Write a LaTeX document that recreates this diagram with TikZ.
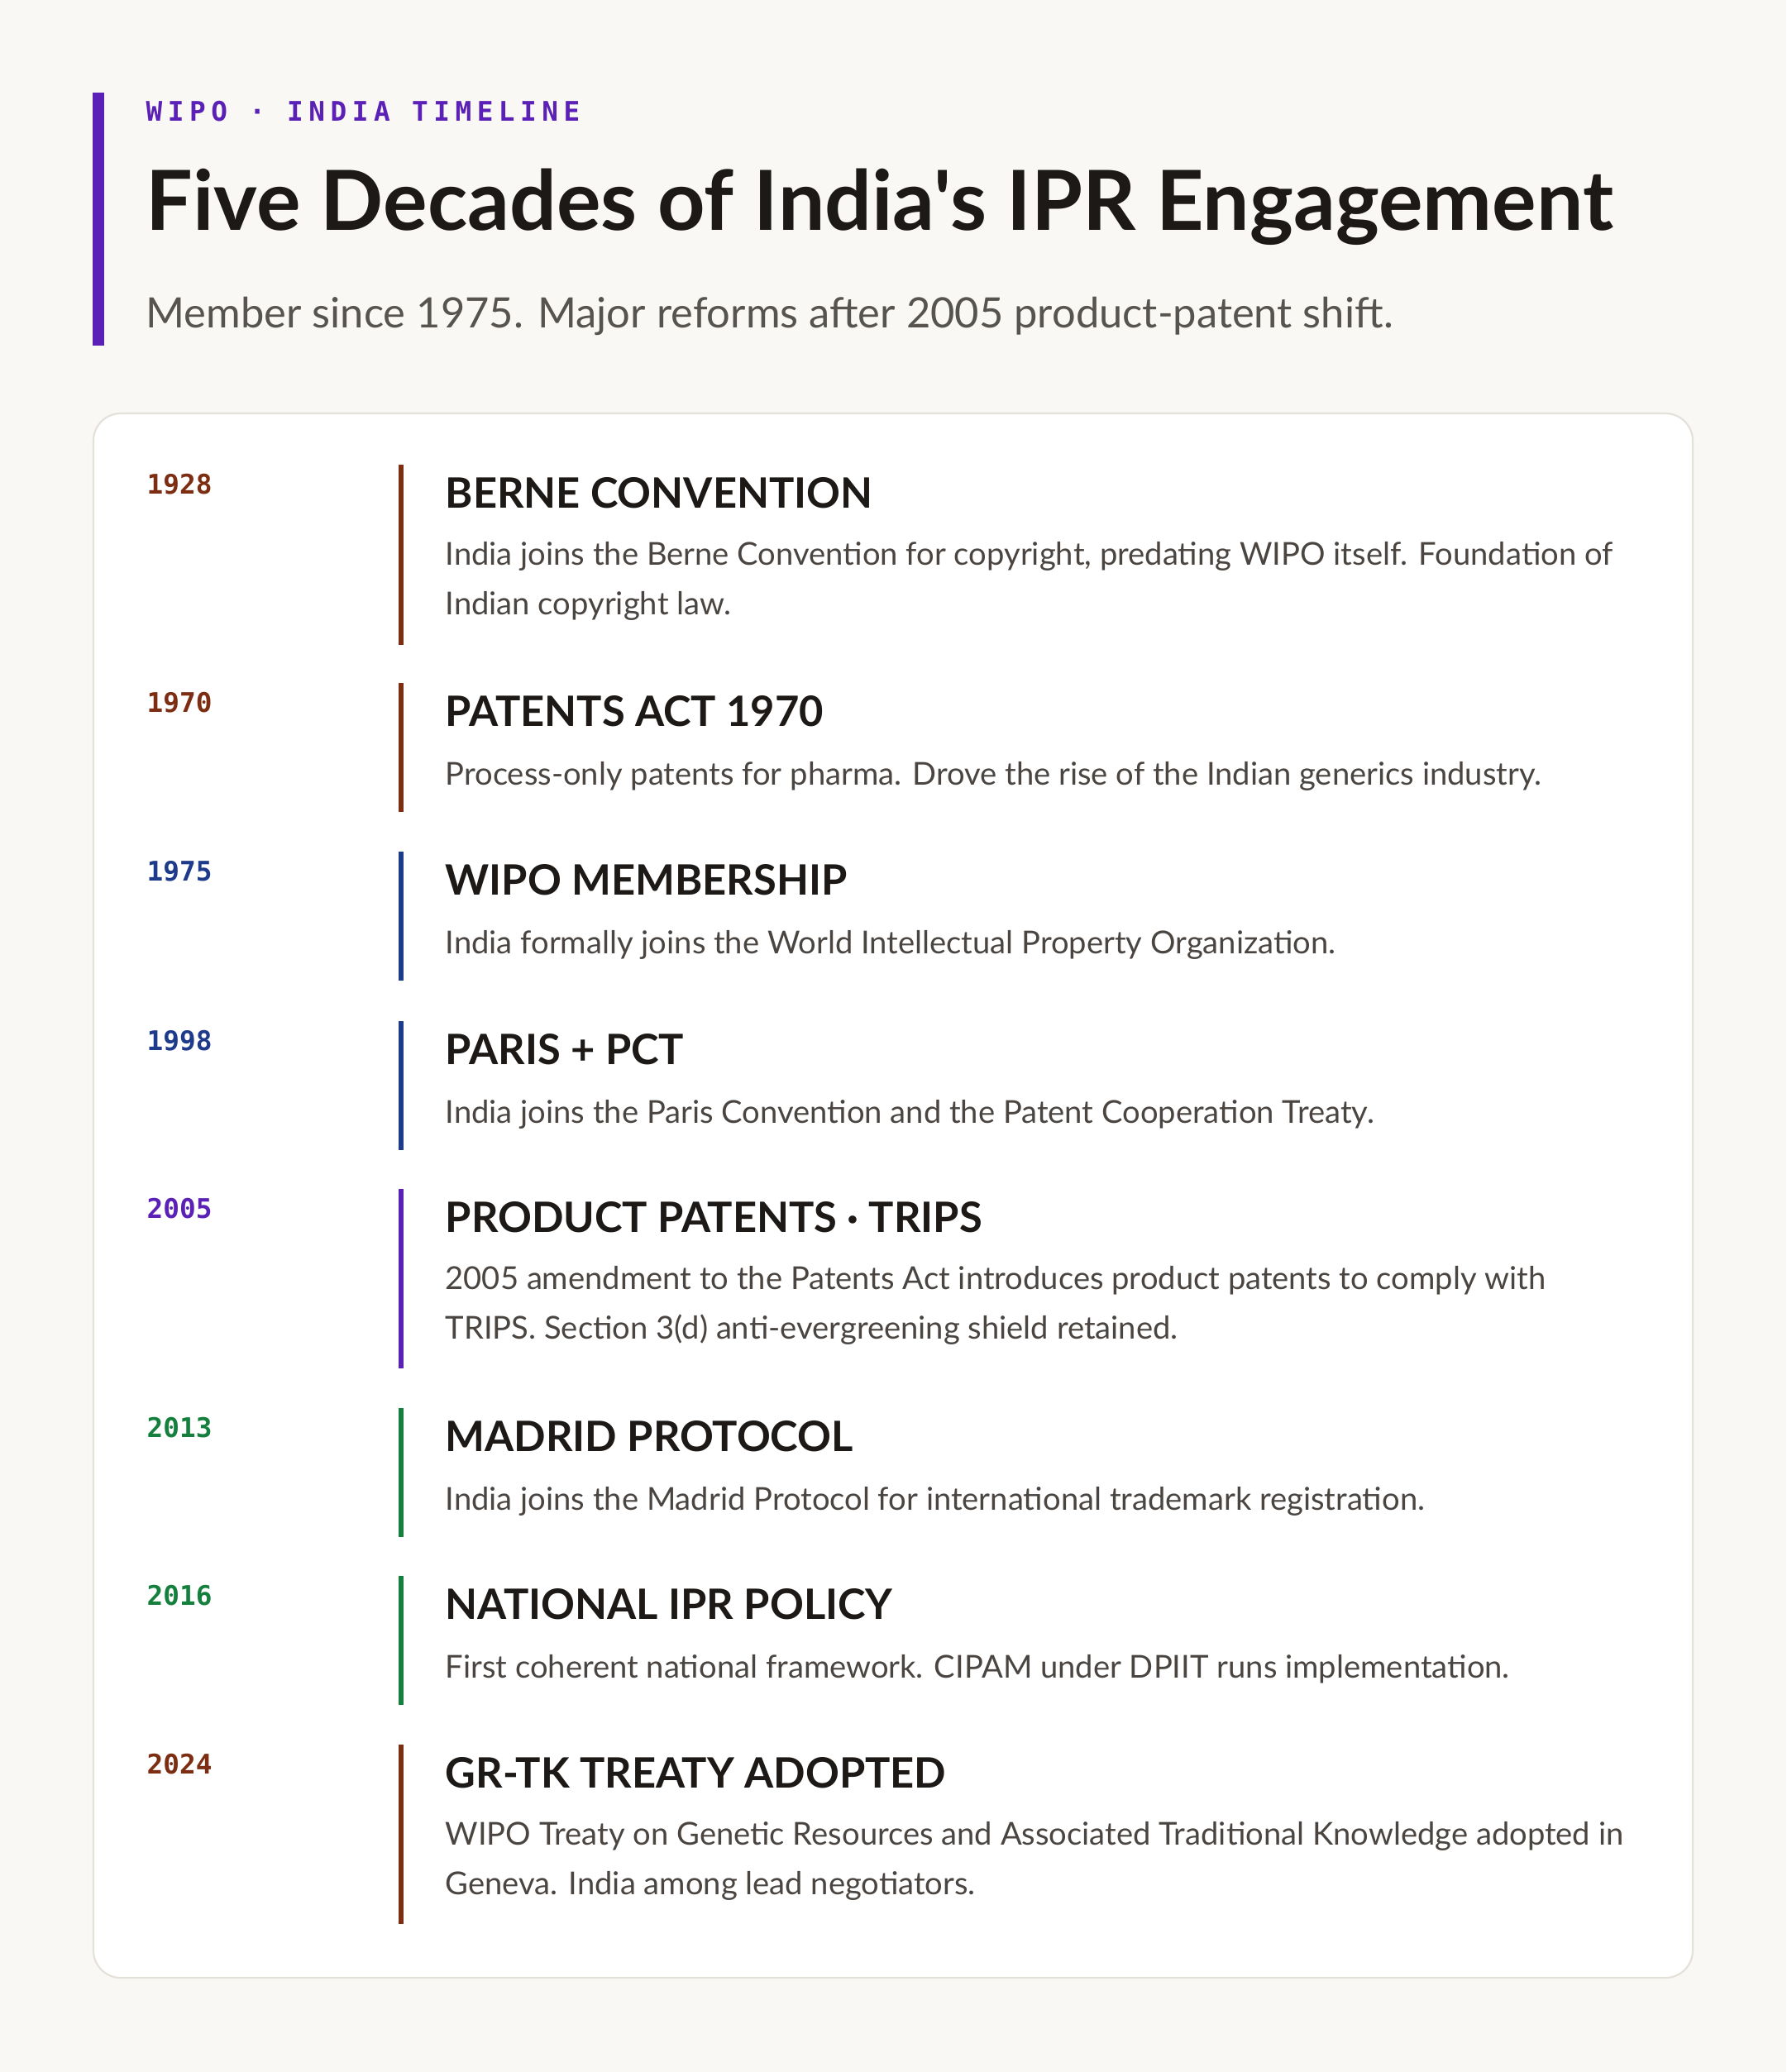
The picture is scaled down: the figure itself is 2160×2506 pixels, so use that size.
\documentclass[tikz,border=0pt]{standalone}
\usepackage{fontspec}
\setmainfont{Lato}
\setmonofont{DejaVu Sans Mono}
\newfontfamily\eyebrowfont{DejaVu Sans Mono}[LetterSpace=20]
\newfontfamily\titlefont{Lato}
\usepackage{xcolor}
\usetikzlibrary{positioning}

\definecolor{paper}{HTML}{F9F8F4}
\definecolor{cardline}{HTML}{E4E0DA}
\definecolor{ink}{HTML}{1C1917}
\definecolor{bodygray}{HTML}{4A4541}
\definecolor{subgray}{HTML}{57534E}
\definecolor{violet}{HTML}{5B21B6}
\definecolor{rust}{HTML}{7C2D12}
\definecolor{navy}{HTML}{1E3A8A}
\definecolor{leaf}{HTML}{15803D}

\begin{document}
\begin{tikzpicture}[
  x=0.01cm, y=-0.01cm,
  year/.style={anchor=base west, inner sep=0, font=\ttfamily\bfseries\fontsize{9.3}{11}\selectfont},
  heading/.style={anchor=base west, inner sep=0, text=ink, font=\bfseries\fontsize{14.4}{17}\selectfont},
  blurb/.style={anchor=base west, inner sep=0, align=left, text=bodygray, font=\fontsize{10.85}{16.8}\selectfont},
  spine/.style={line width=1.9pt}
]
% Page and card
\fill[paper] (0,0) rectangle (2160,2506);
\useasboundingbox (0,0) rectangle (2160,2506);
\filldraw[fill=white, draw=cardline, line width=0.6pt, rounded corners=0.33cm] (113,500) rectangle (2047,2392);

% Header
\fill[violet] (112,112) rectangle (126,418);
\node[anchor=base west, inner sep=0, text=violet, font=\eyebrowfont\bfseries\fontsize{9.3}{11}\selectfont] (eyebrow) at (176,147) {WIPO · INDIA TIMELINE};
\node[anchor=base west, inner sep=0, text=ink, font=\titlefont\bfseries\fontsize{28.5}{33}\selectfont] (title) at (176,278) {Five Decades of India's IPR Engagement};
\node[anchor=base west, inner sep=0, text=subgray, font=\fontsize{14.4}{17}\selectfont] (subtitle) at (176,396) {Member since 1975. Major reforms after 2005 product-patent shift.};

% 1928 (two-line blurbs sit on their last baseline)
\draw[spine, rust] (485,562) -- (485,780);
\node[year, text=rust] (y1928) at (177,597) {1928};
\node[heading] (h1928) at (538,614) {BERNE CONVENTION};
\node[blurb] (d1928) at (538,743) {India joins the Berne Convention for copyright, predating WIPO itself. Foundation of\\Indian copyright law.};

% 1970
\draw[spine, rust] (485,826) -- (485,982);
\node[year, text=rust] (y1970) at (177,861) {1970};
\node[heading] (h1970) at (538,878) {PATENTS ACT 1970};
\node[blurb] (d1970) at (538,949) {Process-only patents for pharma. Drove the rise of the Indian generics industry.};

% 1975
\draw[spine, navy] (485,1030) -- (485,1186);
\node[year, text=navy] (y1975) at (177,1065) {1975};
\node[heading] (h1975) at (538,1082) {WIPO MEMBERSHIP};
\node[blurb] (d1975) at (538,1153) {India formally joins the World Intellectual Property Organization.};

% 1998
\draw[spine, navy] (485,1235) -- (485,1391);
\node[year, text=navy] (y1998) at (177,1270) {1998};
\node[heading] (h1998) at (538,1287) {PARIS + PCT};
\node[blurb] (d1998) at (538,1358) {India joins the Paris Convention and the Patent Cooperation Treaty.};

% 2005
\draw[spine, violet] (485,1438) -- (485,1655);
\node[year, text=violet] (y2005) at (177,1473) {2005};
\node[heading] (h2005) at (538,1490) {PRODUCT PATENTS · TRIPS};
\node[blurb] (d2005) at (538,1619) {2005 amendment to the Patents Act introduces product patents to comply with\\TRIPS. Section 3(d) anti-evergreening shield retained.};

% 2013
\draw[spine, leaf] (485,1703) -- (485,1859);
\node[year, text=leaf] (y2013) at (177,1738) {2013};
\node[heading] (h2013) at (538,1755) {MADRID PROTOCOL};
\node[blurb] (d2013) at (538,1826) {India joins the Madrid Protocol for international trademark registration.};

% 2016
\draw[spine, leaf] (485,1906) -- (485,2062);
\node[year, text=leaf] (y2016) at (177,1941) {2016};
\node[heading] (h2016) at (538,1958) {NATIONAL IPR POLICY};
\node[blurb] (d2016) at (538,2029) {First coherent national framework. CIPAM under DPIIT runs implementation.};

% 2024
\draw[spine, rust] (485,2110) -- (485,2327);
\node[year, text=rust] (y2024) at (177,2145) {2024};
\node[heading] (h2024) at (538,2162) {GR-TK TREATY ADOPTED};
\node[blurb] (d2024) at (538,2291) {WIPO Treaty on Genetic Resources and Associated Traditional Knowledge adopted in\\Geneva. India among lead negotiators.};
\end{tikzpicture}
\end{document}
